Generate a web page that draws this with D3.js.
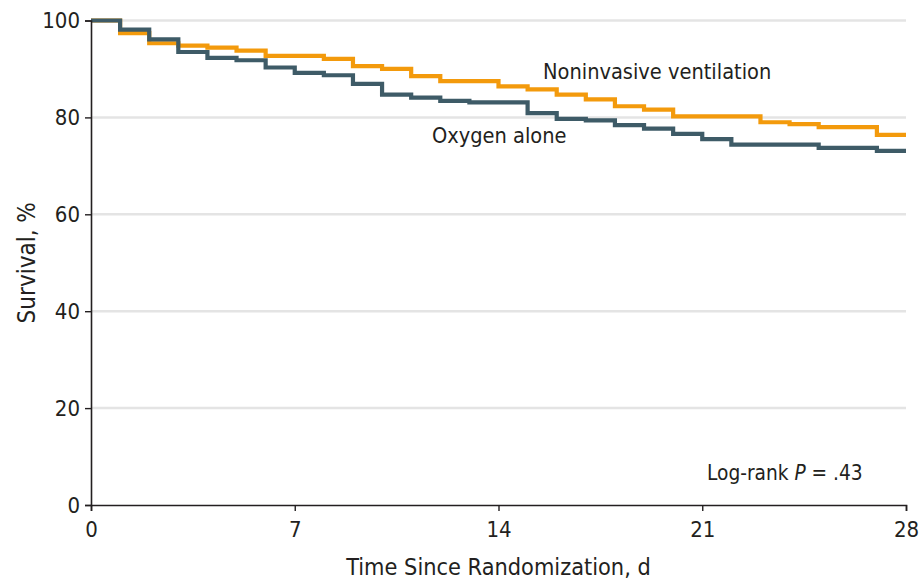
<!DOCTYPE html>
<html>
<head>
<meta charset="utf-8">
<script src="https://cdn.jsdelivr.net/npm/d3@7"></script>
<style>
  html, body { margin: 0; padding: 0; background: #fff; }
  svg { display: block; }
  text { font-family: "DejaVu Sans Condensed", "Liberation Sans", sans-serif; fill: #231f20; }
</style>
</head>
<body>
<svg id="chart" width="920" height="581"></svg>
<script>
// Kaplan-Meier survival by day since randomization (step changes at whole days)
const days = d3.range(0, 29);
const nivSurvival = [100, 97.4, 95.3, 94.8, 94.4, 93.8, 92.7, 92.7, 92.1, 90.6,
  90.0, 88.5, 87.5, 87.5, 86.4, 85.8, 84.7, 83.7, 82.3, 81.6,
  80.2, 80.2, 80.2, 79.0, 78.6, 78.0, 78.0, 76.4, 76.4];
const oxygenSurvival = [100, 98.1, 96.1, 93.5, 92.3, 91.8, 90.3, 89.2, 88.7, 86.9,
  84.7, 84.1, 83.4, 83.1, 83.1, 80.9, 79.7, 79.4, 78.4, 77.7,
  76.6, 75.5, 74.4, 74.4, 74.4, 73.7, 73.7, 73.1, 73.1];
const xTicks = [0, 7, 14, 21, 28];
const yTicks = [0, 20, 40, 60, 80, 100];

const series = [
  { name: "Noninvasive ventilation", values: nivSurvival, color: "#f39a0c" },
  { name: "Oxygen alone", values: oxygenSurvival, color: "#3e5b67" }
];

const svg = d3.select("#chart");
const x = d3.scaleLinear().domain([0, 28]).range([91, 906]);
const y = d3.scaleLinear().domain([0, 100]).range([505, 20.5]);

// horizontal gridlines
svg.append("g")
  .selectAll("line")
  .data(yTicks.filter(d => d > 0))
  .join("line")
  .attr("x1", x(0)).attr("x2", x(28))
  .attr("y1", d => y(d)).attr("y2", d => y(d))
  .attr("stroke", "#e4e4e4")
  .attr("stroke-width", 2.5);

// survival curves
const line = d3.line()
  .x((d, i) => x(days[i]))
  .y(d => y(d))
  .curve(d3.curveStepAfter);

svg.append("g")
  .selectAll("path")
  .data(series)
  .join("path")
  .attr("d", d => line(d.values))
  .attr("fill", "none")
  .attr("stroke", d => d.color)
  .attr("stroke-width", 4.2);

// axes
const xAxis = svg.append("g")
  .attr("transform", `translate(0,${y(0)})`)
  .call(d3.axisBottom(x).tickValues(xTicks).tickSize(6).tickPadding(10).tickFormat(d3.format("d")));
const yAxis = svg.append("g")
  .attr("transform", `translate(${x(0)},0)`)
  .call(d3.axisLeft(y).tickValues(yTicks).tickSize(6).tickPadding(5).tickFormat(d3.format("d")));

[xAxis, yAxis].forEach(g => {
  g.select(".domain").attr("stroke", "#231f20").attr("stroke-width", 1.6);
  g.selectAll(".tick line").attr("stroke", "#231f20").attr("stroke-width", 1.4);
  g.selectAll(".tick text").attr("font-size", 22).attr("fill", "#231f20")
    .style("font-family", '"DejaVu Sans Condensed", sans-serif');
});
yAxis.selectAll(".tick text").attr("dy", "0.34em");

// axis titles
svg.append("text")
  .attr("x", (x(0) + x(28)) / 2)
  .attr("y", 575)
  .attr("text-anchor", "middle")
  .attr("font-size", 23.3)
  .text("Time Since Randomization, d");

svg.append("text")
  .attr("transform", `translate(35,${y(50)}) rotate(-90)`)
  .attr("text-anchor", "middle")
  .attr("font-size", 24)
  .text("Survival, %");

// curve labels
svg.append("text")
  .attr("x", 543).attr("y", 79)
  .attr("font-size", 21.6)
  .text("Noninvasive ventilation");
svg.append("text")
  .attr("x", 432).attr("y", 143)
  .attr("font-size", 21.6)
  .text("Oxygen alone");

// test statistic
const stat = svg.append("text")
  .attr("x", 707).attr("y", 480)
  .attr("font-size", 20.7);
stat.append("tspan").text("Log-rank ");
stat.append("tspan").attr("font-style", "italic").text("P");
stat.append("tspan").text(" = .43");
</script>
</body>
</html>
